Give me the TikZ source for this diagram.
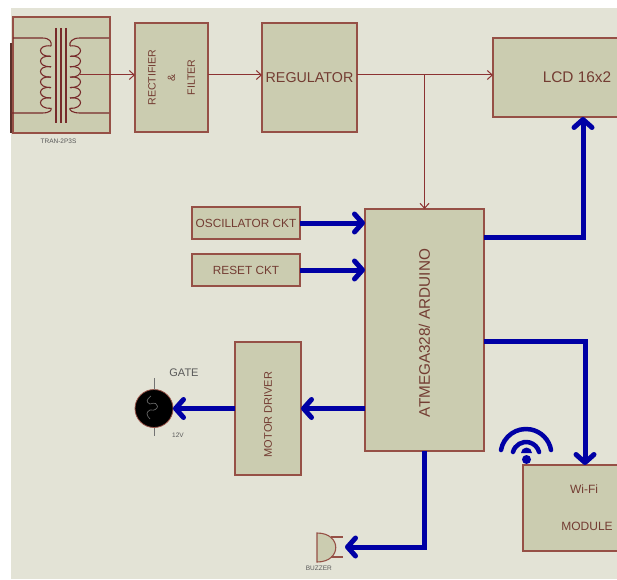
\documentclass[tikz,border=0pt]{standalone}
\usepackage{fontspec}
\setmainfont{Liberation Sans}
\usetikzlibrary{arrows.meta,positioning}
\definecolor{panelbg}{RGB}{227,227,214}
\definecolor{boxfill}{RGB}{203,204,176}
\definecolor{boxline}{RGB}{150,80,70}
\definecolor{wirered}{RGB}{140,50,50}
\definecolor{busblue}{RGB}{0,0,165}
\definecolor{txtred}{RGB}{115,60,50}
\tikzset{
  blockbox/.style={draw=boxline,fill=boxfill,line width=1.4pt,inner sep=0pt,outer sep=0pt,text=txtred},
  capt/.style={inner sep=0pt,text=black!65,font=\fontsize{#1}{#1}\selectfont}
}
\newcommand{\sz}[1]{\fontsize{#1}{#1}\selectfont}
\begin{document}
\begin{tikzpicture}[x=1pt,y=1pt,on grid]
  \useasboundingbox (0,0) rectangle (617,579);
  \fill[panelbg] (11,0) rectangle (617,571);
  \node[blockbox,minimum width=119,minimum height=242] (AT) at (424.5,249)
       {\rotatebox{90}{\sz{15.3}ATMEGA328/ ARDUINO\hspace*{6pt}}};
  \node[blockbox,minimum width=108,minimum height=32] (OS) [above left=107 and 178.5 of AT] {\sz{11.8}OSCILLATOR CKT};
  \node[blockbox,minimum width=108,minimum height=32] (RS) [below=47 of OS]                 {\sz{11.8}RESET CKT};
  \node[blockbox,minimum width=95,minimum height=109] (RG) [above left=252.5 and 115 of AT] {\sz{14.3}REGULATOR};
  \node[blockbox,minimum width=73,minimum height=109] (RF) [left=138 of RG]
       {\rotatebox{90}{\parbox{90pt}{\centering\sz{10.6}RECTIFIER\\[9pt]\&\\[9pt]FILTER}}};
  \node[blockbox,minimum width=97,minimum height=116] (TR) [left=110 of RF,yshift=2.5] {};
  \node[blockbox,minimum width=125,minimum height=79] (LCD) [above right=252.5 and 131 of AT] {\hspace*{43pt}\sz{15.4}LCD 16x2};
  \node[blockbox,minimum width=66,minimum height=133] (MD) [below left=78.5 and 156.5 of AT]
       {\rotatebox{90}{\sz{11}MOTOR DRIVER\hspace*{12pt}}};
  \node[blockbox,minimum width=95,minimum height=86,align=center] (WF) [below right=178 and 146 of AT]
       {\hspace*{27pt}\sz{12}Wi-Fi\\[25pt]\hspace*{33pt}\sz{12}MODULE};
  \node[circle,draw=boxline,fill=black,line width=.8pt,minimum size=38,inner sep=0pt,outer sep=0pt] (GT) at (154,170.5) {};
  \node[capt=11]   (GL) [above right=36 and 30 of GT] {GATE};
  \node[capt=6.5]  (VL) [below right=27 and 24 of GT] {12V};
  \node[capt=6.5]  (TL) [below=66 of TR,xshift=-3]    {TRAN-2P3S};
  \coordinate (BZ) at (345,32);
  \node[capt=6.5]  (BL) [below left=19 and 13 of BZ]  {BUZZER};
  \coordinate (J1) at (AT.north |- 0,504);
  \coordinate (WO) at (80,504);
  \coordinate (WL) at (583,342);
  \coordinate (WW) at (585,238);
  \coordinate (WB) at (424,32);
  % transformer
  \draw[boxline!60!black,line width=2pt] (11,536) -- (11,446);
  \begin{scope}[draw=wirered!85!black,line width=1.1pt]
    \draw (13,541) -- (42,541) .. controls (50,541) and (52,537) .. (51,533);
    \draw (11,466) -- (42,466) .. controls (50,466) and (52,469) .. (51,471);
    \draw (109,541) -- (80,541) .. controls (72,541) and (69,537) .. (70,533);
    \draw (109,466) -- (80,466) .. controls (72,466) and (69,469) .. (70,471);
    \foreach \k in {0,...,5} {
      \draw (51,533-10.4*\k) .. controls (37,535-10.4*\k) and (37,522-10.4*\k) .. (51,522.6-10.4*\k);
      \draw (70,533-10.4*\k) .. controls (84,535-10.4*\k) and (84,522-10.4*\k) .. (70,522.6-10.4*\k);
    }
    \foreach \x in {56,61,66}
      \draw (\x,551) -- (\x,456);
  \end{scope}
  % lamp
  \draw[black!55,line width=1pt] (154,201) -- (GT.north) (GT.south) -- (154,143);
  \draw[black!60,line width=.7pt] (151,183) .. controls (146,179) and (146,177) .. (150,175)
    .. controls (160,179) and (160,167) .. (150,169) .. controls (146,167) and (146,164) .. (150,160);
  % buzzer
  \draw[boxline,line width=1.1pt,fill=boxfill] (317,46) .. controls (342,46) and (342,17) .. (317,17) -- cycle;
  \draw[boxline,line width=1.1pt] (331,42) -- (343,42) (331,22) -- (343,22);
  % wifi
  \draw[busblue,line width=4.5pt,line cap=round] (501,129) arc[start angle=170,end angle=10,radius=25.4];
  \draw[busblue,line width=4.5pt,line cap=round] (513,127) arc[start angle=165,end angle=15,radius=13.5];
  \fill[busblue] (526.5,119.5) circle[radius=4.5];
  \fill[busblue] (521,126) arc[start angle=180,end angle=0,radius=5.5] -- cycle;
  % wires
  \tikzset{mystyle/.style={-{Straight Barb[length=5pt,width=9pt]},draw=wirered,line width=1pt}}
  \path (WO)              edge [mystyle] ([yshift=2.5]RF.west)
        ([yshift=2.5]RF.east) edge [mystyle] ([yshift=2.5]RG.west)
        ([yshift=2.5]RG.east) edge [mystyle] ([yshift=2.5]LCD.west)
        (J1)              edge [mystyle] (AT.north);
  \tikzset{mystyle/.style={-{Straight Barb[round,length=8pt,width=18pt,line width=5pt]},draw=busblue,line width=5pt}}
  \path (OS.east)         edge [mystyle] (OS.east -| AT.west)
        (RS.east)         edge [mystyle] (RS.east -| AT.west)
        (AT.west |- MD)   edge [mystyle] (MD.east)
        (MD.west)         edge [mystyle] (GT.east);
  \draw[mystyle] (AT.east |- WL) -- (WL) -- (WL |- LCD.south);
  \draw[mystyle] (AT.east |- WW) -- (WW) -- (WW |- WF.north);
  \draw[mystyle] (AT.south -| WB) -- (WB) -- (BZ);
\end{tikzpicture}
\end{document}
